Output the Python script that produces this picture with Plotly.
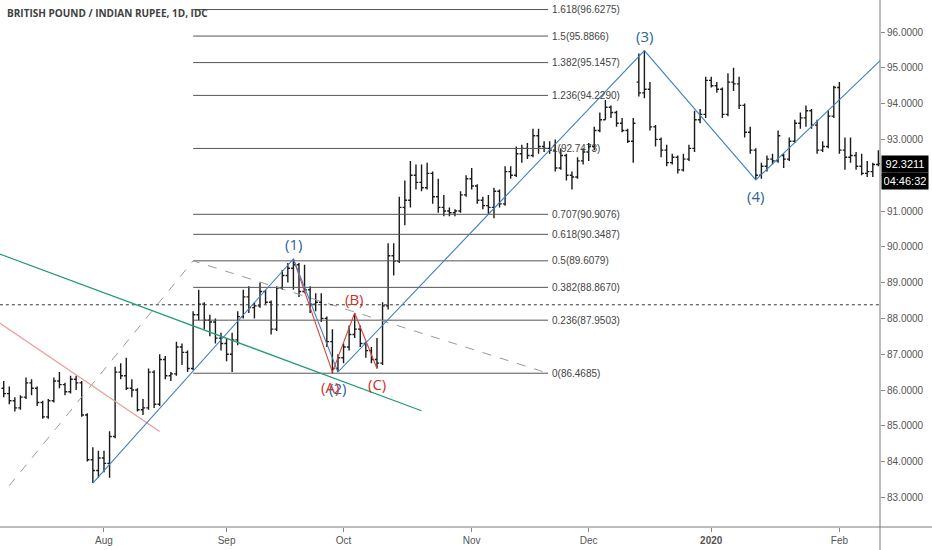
import pandas as pd
import plotly.graph_objects as go

# daily bars, GBP/INR (IDC), weekdays 2019-07-08 .. 2020-02-12
dates = pd.bdate_range("2019-07-08", "2020-02-12")

opens = [
    86.05, 85.90, 85.70, 85.50, 85.80, 86.20, 86.05, 85.65, 85.25, 85.70,
    86.25, 86.15, 85.95, 86.30, 86.20, 85.30, 84.05, 83.75,
    84.10, 83.95, 84.70, 86.50, 86.40, 86.05, 86.00, 85.45, 85.50, 86.50,
    85.60, 86.85, 86.40, 86.45, 87.20, 87.05, 86.60, 88.10, 88.40, 87.95,
    87.90, 87.45, 87.30, 87.00, 87.40, 88.05, 88.60, 88.30, 88.35, 88.75,
    88.45, 87.70, 88.85, 89.20, 89.40, 89.50, 88.75, 88.80, 88.40, 88.45,
    88.00, 87.35, 86.60, 86.90, 87.20, 87.55, 87.70, 87.30, 87.10, 86.85,
    86.75, 88.35, 89.75, 89.60, 91.10, 91.30, 92.00, 91.80, 91.65, 92.05,
    91.40, 91.10, 91.00, 90.95, 91.00, 91.45, 91.90, 91.70, 91.30, 91.15,
    91.10, 91.55, 91.20, 92.10, 92.00, 92.60, 92.75, 92.55, 93.10, 92.80,
    92.75, 92.70, 92.20, 92.55, 92.00, 91.95, 92.40, 92.65, 92.80, 93.25,
    93.55, 93.90, 93.75, 93.45, 93.25, 92.95, 94.60, 94.30, 94.40, 93.35,
    93.00, 92.70, 92.35, 92.50, 92.15, 92.45, 92.75, 93.55, 93.70, 94.65,
    94.50, 94.40, 93.70, 94.60, 94.55, 93.95, 93.20, 92.70, 92.00, 92.25,
    92.45, 92.40, 92.55, 92.45, 92.95, 93.45, 93.60, 93.80, 93.40, 92.70,
    92.80, 93.65, 94.45, 92.70, 92.50, 92.55, 92.25, 92.05, 92.10, 92.30,
]
highs = [
    86.25, 86.10, 85.80, 85.85, 86.35, 86.30, 86.10, 85.70, 85.75, 86.35,
    86.50, 86.20, 86.40, 86.40, 86.25, 85.35, 84.40, 84.30,
    84.30, 84.85, 86.65, 86.75, 86.90, 86.30, 86.05, 85.75, 86.60, 86.55,
    87.00, 86.95, 86.50, 87.35, 87.30, 87.10, 88.20, 88.80, 88.45, 88.10,
    88.00, 87.60, 87.45, 87.60, 88.20, 88.80, 88.90, 88.45, 89.00, 88.80,
    88.50, 88.90, 89.35, 89.55, 89.66, 89.55, 89.50, 88.90, 88.70, 88.70,
    88.05, 87.70, 87.00, 87.30, 87.80, 88.15, 87.80, 87.35, 87.20, 87.45,
    88.45, 90.10, 90.10, 91.40, 91.85, 92.40, 92.30, 92.30, 92.35, 92.10,
    91.90, 91.45, 91.10, 91.05, 91.55, 92.00, 92.20, 91.75, 91.40, 91.45,
    91.65, 91.60, 92.25, 92.25, 92.80, 92.85, 92.90, 93.30, 93.30, 92.95,
    92.95, 93.00, 92.75, 92.60, 92.10, 92.50, 92.75, 92.90, 93.35, 93.75,
    94.10, 93.95, 93.80, 93.60, 93.30, 93.60, 95.40, 95.48, 94.60, 93.40,
    93.05, 92.85, 92.60, 92.55, 92.60, 92.85, 93.80, 93.85, 94.75, 94.75,
    94.60, 94.45, 94.85, 95.00, 94.75, 94.00, 93.35, 92.75, 92.35, 92.55,
    92.60, 93.25, 92.60, 93.05, 93.55, 93.75, 93.95, 93.85, 93.55, 92.95,
    93.80, 94.50, 94.60, 93.05, 93.05, 92.65, 92.60, 92.40, 92.35, 92.70,
]
lows = [
    85.80, 85.60, 85.40, 85.45, 85.75, 85.85, 85.55, 85.20, 85.20, 85.65,
    86.05, 85.85, 85.90, 86.00, 85.25, 84.00, 83.40, 83.55,
    83.70, 83.55, 84.65, 86.30, 86.00, 85.80, 85.40, 85.30, 85.45, 85.50,
    85.55, 86.30, 86.25, 86.40, 86.70, 86.50, 86.55, 87.95, 87.70, 87.50,
    87.30, 87.10, 86.80, 86.50, 87.25, 88.00, 88.15, 88.00, 88.30, 88.40,
    87.55, 87.65, 88.80, 89.00, 88.80, 88.60, 88.70, 88.15, 88.20, 87.90,
    87.20, 86.47, 86.50, 86.75, 87.10, 87.45, 87.20, 86.90, 86.75, 86.60,
    86.70, 88.25, 89.20, 89.55, 90.60, 91.10, 91.60, 91.55, 91.60, 91.20,
    90.95, 90.85, 90.85, 90.85, 90.95, 91.40, 91.60, 91.20, 91.05, 90.90,
    90.80, 91.10, 91.15, 91.90, 91.95, 92.35, 92.45, 92.50, 92.60, 92.65,
    92.60, 92.10, 92.15, 91.85, 91.60, 91.90, 92.30, 92.40, 92.70, 93.20,
    93.55, 93.60, 93.35, 93.20, 92.90, 92.35, 94.20, 94.15, 93.25, 92.80,
    92.50, 92.25, 92.30, 92.05, 92.10, 92.40, 92.65, 93.45, 93.60, 94.45,
    94.30, 93.60, 93.65, 94.35, 93.85, 93.05, 92.60, 91.87, 91.90, 92.10,
    92.30, 92.35, 92.20, 92.40, 92.90, 93.30, 93.35, 93.30, 92.60, 92.65,
    92.75, 93.60, 92.60, 92.15, 92.35, 92.15, 92.00, 91.95, 91.95, 92.25,
]
closes = [
    85.90, 85.70, 85.50, 85.80, 86.20, 86.05, 85.65, 85.25, 85.70, 86.25,
    86.15, 85.95, 86.30, 86.20, 85.30, 84.05, 83.75, 84.10,
    83.95, 84.70, 86.50, 86.40, 86.05, 86.00, 85.45, 85.50, 86.50, 85.60,
    86.85, 86.40, 86.45, 87.20, 87.05, 86.60, 88.10, 88.40, 87.95, 87.90,
    87.45, 87.30, 87.00, 87.40, 88.05, 88.60, 88.30, 88.35, 88.75, 88.45,
    87.70, 88.85, 89.20, 89.40, 89.50, 88.75, 88.80, 88.40, 88.45, 88.00,
    87.35, 86.60, 86.90, 87.20, 87.55, 87.70, 87.30, 87.10, 86.85, 86.75,
    88.35, 89.75, 89.60, 91.10, 91.30, 92.00, 91.80, 91.65, 92.05, 91.40,
    91.10, 91.00, 90.95, 91.00, 91.45, 91.90, 91.70, 91.30, 91.15, 91.10,
    91.55, 91.20, 92.10, 92.00, 92.60, 92.75, 92.55, 93.10, 92.80, 92.75,
    92.70, 92.20, 92.55, 92.00, 91.95, 92.40, 92.65, 92.80, 93.25, 93.55,
    93.90, 93.75, 93.45, 93.25, 92.95, 93.45, 94.30, 94.40, 93.35, 93.00,
    92.70, 92.35, 92.50, 92.15, 92.45, 92.75, 93.55, 93.70, 94.65, 94.50,
    94.40, 93.70, 94.60, 94.55, 93.95, 93.20, 92.70, 92.00, 92.25, 92.45,
    92.40, 93.10, 92.45, 92.95, 93.45, 93.60, 93.80, 93.40, 92.70, 92.80,
    93.65, 94.45, 92.70, 92.50, 92.55, 92.25, 92.05, 92.10, 92.30, 92.3211,
]

# trend-based fib extension (anchor points + levels)
fib_anchor_dates = ["2019-07-09", "2019-08-23", "2019-11-20 17:00"]
fib_anchor_prices = [83.3291, 89.6079, 86.4685]
fib_ratios = [0, 0.236, 0.382, 0.5, 0.618, 0.707, 1, 1.236, 1.382, 1.5, 1.618]
fib_prices = [86.4685, 87.9503, 88.8670, 89.6079, 90.3487, 90.9076,
              92.7473, 94.2290, 95.1457, 95.8866, 96.6275]

# elliott wave counts
wave_labels = ["", "(1)", "(2)", "(3)", "(4)", ""]
wave_dates = ["2019-07-30", "2019-09-18", "2019-09-30", "2019-12-16", "2020-01-13", "2020-02-13"]
wave_prices = [83.40, 89.66, 86.50, 95.48, 91.87, 95.30]
abc_labels = ["", "(A)", "(B)", "(C)"]
abc_dates = ["2019-09-18", "2019-09-27", "2019-10-03", "2019-10-09"]
abc_prices = [89.66, 86.50, 88.15, 86.60]

# trend lines
green_dates = ["2019-07-03", "2019-10-21"]
green_prices = [89.93, 85.42]
pink_dates = ["2019-07-03", "2019-08-15"]
pink_prices = [88.11, 84.84]
hline_price = 88.38

last_price = closes[-1]
countdown = "04:46:32"

month_ticks = ["2019-08-01", "2019-09-02", "2019-10-01", "2019-11-01",
               "2019-12-02", "2020-01-01", "2020-02-03"]
month_text = ["Aug", "Sep", "Oct", "Nov", "Dec", "<b>2020</b>", "Feb"]
price_ticks = list(range(83, 97))

BLUE = "#3f7fc4"
RED = "#d9443a"
NUM_FONT = "Liberation Sans"

fig = go.Figure()

# fib level lines
fx, fy = [], []
for p in fib_prices:
    fx += [fib_anchor_dates[1], fib_anchor_dates[2], None]
    fy += [p, p, None]
fig.add_trace(go.Scatter(x=fx, y=fy, mode="lines", line=dict(color="#555555", width=1),
                         hoverinfo="skip", showlegend=False))
fig.add_trace(go.Scatter(x=fib_anchor_dates, y=fib_anchor_prices, mode="lines",
                         line=dict(color="#9a9a9a", width=1, dash="dash"),
                         hoverinfo="skip", showlegend=False))

# horizontal dotted line
fig.add_trace(go.Scatter(x=["2019-07-01", "2020-02-20"], y=[hline_price, hline_price], mode="lines",
                         line=dict(color="#333333", width=1, dash="dot"),
                         hoverinfo="skip", showlegend=False))

fig.add_trace(go.Ohlc(
    x=dates, open=opens, high=highs, low=lows, close=closes,
    increasing_line_color="#1a1a1a", decreasing_line_color="#1a1a1a",
    line_width=1.4, tickwidth=0.4, hoverinfo="skip", showlegend=False,
))

fig.add_trace(go.Scatter(x=green_dates, y=green_prices, mode="lines",
                         line=dict(color="#1f9d72", width=1.2), hoverinfo="skip", showlegend=False))
fig.add_trace(go.Scatter(x=pink_dates, y=pink_prices, mode="lines",
                         line=dict(color="#ee9a9a", width=1.2), hoverinfo="skip", showlegend=False))
fig.add_trace(go.Scatter(x=abc_dates, y=abc_prices, mode="lines",
                         line=dict(color=RED, width=1.1), hoverinfo="skip", showlegend=False))
fig.add_trace(go.Scatter(x=wave_dates, y=wave_prices, mode="lines",
                         line=dict(color=BLUE, width=1.1), hoverinfo="skip", showlegend=False))

# fib labels
for r, p in zip(fib_ratios, fib_prices):
    fig.add_annotation(x=fib_anchor_dates[2], y=p, text=f"{r:g}({p:.4f})", showarrow=False,
                       xanchor="left", xshift=2, font=dict(family=NUM_FONT, size=10, color="#444444"))

# wave labels
for lab, d, p in zip(wave_labels, wave_dates, wave_prices):
    if lab:
        up = lab in ("(1)", "(3)")
        fig.add_annotation(x=d, y=p, text=lab, showarrow=False, yshift=15 if up else -16,
                           font=dict(family="Open Sans", size=15, color="#2c6399"))
for lab, d, p in zip(abc_labels, abc_dates, abc_prices):
    if lab:
        up = lab == "(B)"
        fig.add_annotation(x=d, y=p, text=lab, showarrow=False, yshift=14 if up else -15,
                           xshift=-2 if lab == "(A)" else 0,
                           font=dict(family="Open Sans", size=15, color="#d0302b"))

# title
fig.add_annotation(xref="paper", yref="paper", x=0.006, y=0.975, xanchor="left", yanchor="middle",
                   text="BRITISH POUND / INDIAN RUPEE, 1D, IDC", showarrow=False,
                   font=dict(family="Open Sans", size=10, color="#404040", weight="bold"))

# last price and countdown tags
fig.add_annotation(xref="paper", x=1, y=last_price, text=f"{last_price:.4f}", showarrow=False,
                   xanchor="left", xshift=1, bgcolor="#000000", borderpad=2, width=42,
                   font=dict(family=NUM_FONT, size=11, color="#ffffff"))
fig.add_annotation(xref="paper", x=1, y=last_price, text=countdown, showarrow=False,
                   xanchor="left", xshift=1, yshift=-17, bgcolor="#000000", borderpad=2, width=42,
                   font=dict(family=NUM_FONT, size=11, color="#ffffff"))

# pane borders extending into the axis area
fig.add_shape(type="line", xref="paper", yref="paper", x0=0, x1=1.06, y0=0, y1=0,
              line=dict(color="#7a7a7a", width=1))
fig.add_shape(type="line", xref="paper", yref="paper", x0=1, x1=1, y0=-0.05, y1=1,
              line=dict(color="#7a7a7a", width=1))

fig.update_layout(
    width=932, height=550,
    margin=dict(l=0, r=52, t=0, b=23),
    plot_bgcolor="white", paper_bgcolor="white",
    showlegend=False,
    xaxis=dict(
        type="date",
        range=["2019-07-05 08:00", "2020-02-12 07:00"],
        rangebreaks=[dict(bounds=["sat", "mon"])],
        rangeslider=dict(visible=False),
        tickvals=month_ticks, ticktext=month_text,
        showgrid=False, zeroline=False, showline=False, automargin=False,
        ticks="outside", ticklen=4, tickcolor="#8a8a8a",
        tickfont=dict(family=NUM_FONT, size=10, color="#555555"),
    ),
    yaxis=dict(
        side="right",
        range=[82.173, 96.894],
        tickvals=price_ticks, tickformat=".4f",
        showgrid=False, zeroline=False, showline=False, automargin=False,
        ticks="outside", ticklen=4, tickcolor="#8a8a8a",
        tickfont=dict(family=NUM_FONT, size=10, color="#555555"),
    ),
)

# drop the default page margin so the chart fills the window exactly
fig.write_html("out.html", config={"displayModeBar": False},
               post_script="document.body.style.margin='0';")
